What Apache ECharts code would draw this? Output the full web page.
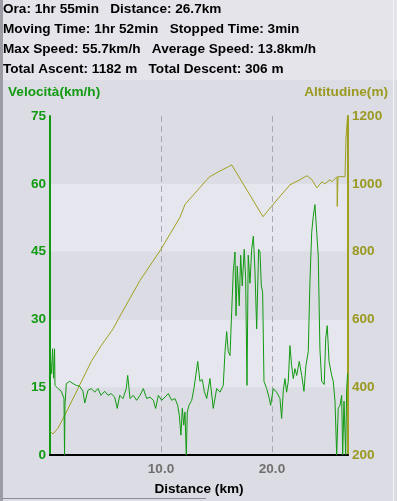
<!DOCTYPE html>
<html><head><meta charset="utf-8">
<script src="https://cdn.jsdelivr.net/npm/echarts@6/dist/echarts.min.js"></script>
<style>html,body{margin:0;padding:0;background:#dcdce4;}#c{width:397px;height:501px;}</style>
</head><body><div id="c"></div>
<script>
var infoLines = [
  'Ora: 1hr 55min   Distance: 26.7km',
  'Moving Time: 1hr 52min   Stopped Time: 3min',
  'Max Speed: 55.7km/h   Average Speed: 13.8km/h',
  'Total Ascent: 1182 m   Total Descent: 306 m'
];
var speedKm = [0.00,0.06,0.14,0.23,0.32,0.41,0.45,0.72,1.02,1.26,1.31,1.35,1.47,1.77,2.07,2.37,2.68,2.97,3.13,3.42,3.72,4.03,4.32,4.59,4.93,5.23,5.50,5.83,6.06,6.28,6.58,6.87,7.00,7.21,7.50,7.81,8.11,8.41,8.71,9.01,9.31,9.52,9.76,10.06,10.36,10.66,10.96,11.26,11.50,11.65,11.80,11.92,12.05,12.16,12.28,12.37,12.52,12.77,12.97,13.15,13.31,13.51,13.72,13.90,14.12,14.41,14.71,15.02,15.32,15.61,15.77,15.92,16.06,16.22,16.37,16.51,16.67,16.76,16.87,17.05,17.18,17.32,17.50,17.63,17.75,17.86,18.02,18.17,18.32,18.47,18.62,18.80,18.92,19.04,19.16,19.28,19.52,19.76,19.88,20.12,20.42,20.72,20.87,21.02,21.17,21.32,21.47,21.62,21.77,21.92,22.07,22.23,22.46,22.68,22.88,23.06,23.27,23.42,23.58,23.72,23.87,24.03,24.17,24.32,24.48,24.71,24.84,24.98,25.14,25.38,25.52,25.68,25.83,25.97,26.13,26.28,26.37,26.49,26.64,26.73,26.82];
var speedVal = [8,20.7,18,23.5,17,23.5,15.4,14.7,14.1,12.5,0,11,15.8,16.3,15.8,15.4,15.2,14.1,11.5,14.3,14.7,13.9,14.7,13.2,14.1,13.2,13.6,12.8,10.3,13.2,12.5,14.7,17.6,12.5,13.2,12.1,13.2,14.7,12.5,12.8,12.1,10.3,13.2,12.1,12.8,13.6,12.1,12.5,11,8.8,4.4,10.3,6.6,9.5,0,9.5,11,12.1,14.7,14.7,20.7,16.3,16.7,14.1,12.5,16.9,10.3,14.7,13.9,15.4,22.9,27.3,22.9,22,31.7,40.5,44.9,30.8,41.8,33,44.2,37.4,45.5,39,15.4,44.2,38,45.5,48.4,40.5,27.9,45.5,44.9,37.4,36,16.3,14.7,12.5,11,14.7,13.9,12.5,8.1,14.3,16.9,13.9,16.3,24.2,19.8,16.9,19.1,17.6,20.7,17.6,14.1,19.8,22.9,38.3,49.3,52.8,55.4,49.3,44,23.5,16.3,15.6,25.7,28.6,20.7,17.6,16.3,11.9,0,10.3,11,13.2,0,11.9,0,14.7,18];
var altKm = [0.00,0.27,0.72,1.33,2.52,3.72,4.62,5.68,6.31,8.11,10.00,11.71,12.16,13.51,14.12,14.41,15.32,16.06,16.37,16.50,19.19,19.97,20.72,21.62,22.52,23.15,23.60,24.05,24.50,24.77,25.23,25.41,25.86,25.88,25.92,25.95,26.58,26.67,26.82];
var altVal = [270,262,279,317,396,476,523,572,610,715,807,901,939,989,1012,1021,1038,1050,1056,1052,903,934,963,997,1012,1024,1012,988,1006,1000,1012,1006,1021,933,930,1021,1021,1135,1205];
var xTicks = [10, 20];

var green = '#129a12', olive = '#a0a020';
var FONT = '"Liberation Sans", Arial, sans-serif';
var FS = 13.6;
var chart = echarts.init(document.getElementById('c'));
var txt = [];
infoLines.forEach(function(s, i){
  txt.push({type:'text', left:3, top:2 + i*20, style:{text:s, font:'bold ' + FS + 'px ' + FONT, fill:'#000'}});
});
function zip(a,b){return a.map(function(v,i){return [v,b[i]];});}
chart.setOption({
  backgroundColor:'#dcdce4',
  animation:false,
  graphic:[
    {type:'rect', left:0, top:0, shape:{width:397, height:80}, style:{fill:'#e4e4ea'}, z:-1},
    {type:'rect', left:0, top:0, shape:{width:3, height:501}, style:{fill:'#9c9ca4'}},
    {type:'rect', left:393, top:0, shape:{width:1, height:501}, style:{fill:'#f4f4f8'}},
    {type:'line', shape:{x1:3, y1:498.5, x2:206, y2:498.5}, style:{stroke:'#8c8c94', lineWidth:1}},
    {type:'text', left:8, top:85, style:{text:'Velocità(km/h)', font:'bold ' + FS + 'px ' + FONT, fill:green}},
    {type:'text', right:9, top:85, style:{text:'Altitudine(m)', font:'bold ' + FS + 'px ' + FONT, fill:'#9a9a22'}}
  ].concat(txt),
  grid:{left:50, right:49, top:116, bottom:44},
  xAxis:{type:'value', min:0, max:26.85, interval:10,
    name:'Distance (km)', nameLocation:'middle', nameGap:27,
    nameTextStyle:{color:'#000', fontWeight:'bold', fontSize:FS, fontFamily:FONT},
    axisLine:{lineStyle:{color:'#000', width:2}}, axisTick:{show:false},
    axisLabel:{showMinLabel:false, showMaxLabel:false, color:'#707070', fontWeight:'bold', fontSize:FS, fontFamily:FONT, margin:7,
      formatter:function(v){return xTicks.indexOf(v)>=0 ? v.toFixed(1) : '';}},
    splitLine:{show:true, lineStyle:{color:'#a8a8b0', type:[6,4], width:1}}
  },
  yAxis:[
    {type:'value', min:0, max:75, interval:15, position:'left',
      axisLine:{show:true, lineStyle:{color:green, width:2}}, axisTick:{show:false},
      axisLabel:{color:green, fontWeight:'bold', fontSize:FS, fontFamily:FONT, margin:4},
      splitLine:{show:false},
      splitArea:{show:true, areaStyle:{color:['#dcdce4','#e6e6ee']}}},
    {type:'value', min:200, max:1200, interval:200, position:'right',
      axisLine:{show:true, lineStyle:{color:olive, width:2}}, axisTick:{show:false},
      axisLabel:{color:'#9a9a22', fontWeight:'bold', fontSize:FS, fontFamily:FONT, margin:4,
        formatter:function(v){return String(v);}},
      splitLine:{show:false}}
  ],
  series:[
    {type:'line', yAxisIndex:1, data:zip(altKm, altVal), symbol:'none', lineStyle:{color:olive, width:1}, z:2},
    {type:'line', yAxisIndex:0, data:zip(speedKm, speedVal), symbol:'none', lineStyle:{color:green, width:1}, z:3}
  ]
});
</script></body></html>
